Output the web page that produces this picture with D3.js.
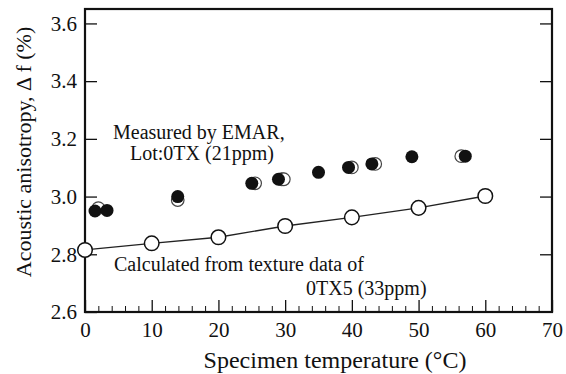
<!DOCTYPE html>
<html>
<head>
<meta charset="utf-8">
<script src="https://cdn.jsdelivr.net/npm/d3@7"></script>
<style>
  html, body { margin: 0; padding: 0; background: #fff; }
  svg { display: block; }
  svg text { font-family: 'Liberation Serif', 'DejaVu Serif', serif !important; fill: #111; }
</style>
</head>
<body>
<svg id="chart" width="566" height="374"></svg>
<script>
// ---- data ----
const calcTemp = [0, 10, 20, 30, 40, 50, 60];
const calcAniso = [2.815, 2.838, 2.859, 2.898, 2.928, 2.961, 3.002];

const measTemp = [1.5, 3.3, 13.9, 25, 29, 35, 39.5, 43, 49, 57];
const measAniso = [2.95, 2.952, 3.0, 3.046, 3.06, 3.084, 3.101, 3.113, 3.138, 3.14];

// repeated measurements (partially hidden behind the main points)
const repTemp = [2.0, 13.9, 25.5, 29.5, 29.8, 40.0, 43.5, 56.4];
const repAniso = [2.96, 2.988, 3.046, 3.06, 3.06, 3.101, 3.113, 3.14];

const xTicks = [0, 10, 20, 30, 40, 50, 60, 70];
const xMinor = d3.range(0, 70.01, 2);
const yTicks = [2.6, 2.8, 3.0, 3.2, 3.4, 3.6];

// ---- layout ----
const FONT = "'Liberation Serif', 'DejaVu Serif', serif";
const svg = d3.select("#chart");
const L = 85, R = 552, T = 9, B = 312;
const x = d3.scaleLinear().domain([0, 70]).range([L, R]);
const y = d3.scaleLinear().domain([2.6, 3.65]).range([B, T]);

// frame
svg.append("rect").attr("x", L).attr("y", T).attr("width", R - L).attr("height", B - T)
  .attr("fill", "none").attr("stroke", "#111").attr("stroke-width", 2.2);

// bottom axis (ticks inward)
const gx = svg.append("g").attr("transform", `translate(0,${B})`)
  .call(d3.axisBottom(x).tickValues(xTicks).tickFormat(d3.format("d")).tickSizeInner(-12).tickSizeOuter(0).tickPadding(10))
  .attr("font-family", FONT);
gx.select(".domain").remove();
gx.selectAll("line").attr("stroke", "#111").attr("stroke-width", 1.3);
gx.selectAll("text").attr("font-size", 21).attr("font-family", FONT).attr("fill", "#111");

const gxm = svg.append("g").attr("transform", `translate(0,${B})`)
  .call(d3.axisBottom(x).tickValues(xMinor.filter(v => v % 10 !== 0)).tickFormat("").tickSizeInner(-6).tickSizeOuter(0));
gxm.select(".domain").remove();
gxm.selectAll("line").attr("stroke", "#111").attr("stroke-width", 1);

// left axis
const gy = svg.append("g").attr("transform", `translate(${L},0)`)
  .call(d3.axisLeft(y).tickValues(yTicks).tickFormat(d3.format(".1f")).tickSizeInner(-12).tickSizeOuter(0).tickPadding(8))
  .attr("font-family", FONT);
gy.select(".domain").remove();
gy.selectAll("line").attr("stroke", "#111").attr("stroke-width", 1.3);
gy.selectAll("text").attr("font-size", 21).attr("font-family", FONT).attr("fill", "#111");

// right axis ticks
const gr = svg.append("g").attr("transform", `translate(${R},0)`)
  .call(d3.axisRight(y).tickValues(yTicks.filter(v => v > 2.6)).tickFormat("").tickSizeInner(-12).tickSizeOuter(0));
gr.select(".domain").remove();
gr.selectAll("line").attr("stroke", "#111").attr("stroke-width", 1.3);

// axis titles
svg.append("text").attr("x", 335).attr("y", 368).attr("text-anchor", "middle")
  .attr("font-family", FONT).attr("font-size", 24).text("Specimen temperature (°C)");
svg.append("text").attr("transform", `translate(31,152) rotate(-90)`).attr("text-anchor", "middle")
  .attr("font-family", FONT).attr("font-size", 22).text("Acoustic anisotropy, Δ f (%)");

// calculated line + open circles
svg.append("path").datum(calcTemp.map((t, i) => [t, calcAniso[i]]))
  .attr("d", d3.line().x(d => x(d[0])).y(d => y(d[1])))
  .attr("fill", "none").attr("stroke", "#222").attr("stroke-width", 1.3);
svg.append("g").selectAll("circle").data(calcTemp).join("circle")
  .attr("cx", d => x(d)).attr("cy", (d, i) => y(calcAniso[i])).attr("r", 7.3)
  .attr("fill", "#fff").attr("stroke", "#111").attr("stroke-width", 1.5);

// repeated measurements (behind)
svg.append("g").selectAll("circle").data(repTemp).join("circle")
  .attr("cx", d => x(d)).attr("cy", (d, i) => y(repAniso[i])).attr("r", 6.3)
  .attr("fill", "#fff").attr("stroke", "#444").attr("stroke-width", 1.2);

// measured filled circles
svg.append("g").selectAll("circle").data(measTemp).join("circle")
  .attr("cx", d => x(d)).attr("cy", (d, i) => y(measAniso[i])).attr("r", 6.5)
  .attr("fill", "#111");

// annotations
const ann = [
  { t: "Measured by EMAR,", x: 113, y: 139 },
  { t: "Lot:0TX (21ppm)", x: 130, y: 160 },
  { t: "Calculated from texture data of", x: 114, y: 271 },
  { t: "0TX5 (33ppm)", x: 306, y: 295 }
];
svg.append("g").selectAll("text").data(ann).join("text")
  .attr("x", d => d.x).attr("y", d => d.y).attr("font-family", FONT).attr("font-size", 20).text(d => d.t);
</script>
</body>
</html>
